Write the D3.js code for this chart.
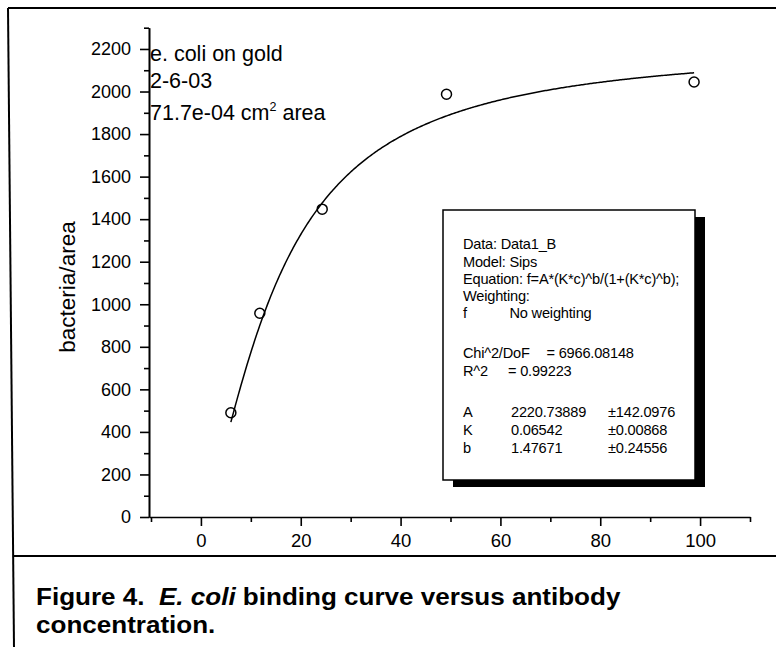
<!DOCTYPE html>
<html>
<head>
<meta charset="utf-8">
<script src="https://cdn.jsdelivr.net/npm/d3@7"></script>
<style>
  html, body { margin: 0; padding: 0; background: #fff; }
  svg { display: block; font-family: "Liberation Sans", Arial, Helvetica, sans-serif; }
</style>
</head>
<body>
<svg id="chart" width="776" height="647"></svg>
<script>
// Antibody concentration vs. bound bacteria per area
const concentration = [6, 11.8, 24.3, 49.2, 98.8];
const bacteriaPerArea = [490, 958, 1447, 1987, 2045];

// Sips fit parameters reported by the fit
const fitA = 2220.73889;
const fitK = 0.06542;
const fitB = 1.47671;

const xTickValues = [0, 20, 40, 60, 80, 100];
const xMinorValues = [-10, 10, 30, 50, 70, 90, 110];
const yTickValues = [0, 200, 400, 600, 800, 1000, 1200, 1400, 1600, 1800, 2000, 2200];
const yMinorValues = [100, 300, 500, 700, 900, 1100, 1300, 1500, 1700, 1900, 2100, 2300];

const noteLines = ["e. coli on gold", "2-6-03"];
const fitReport = [
  ["Data: Data1_B"],
  ["Model: Sips"],
  ["Equation: f=A*(K*c)^b/(1+(K*c)^b);"],
  ["Weighting:"],
  ["f", "No weighting"],
  [],
  ["Chi^2/DoF", "= 6966.08148"],
  ["R^2", "= 0.99223"],
  [],
  ["A", "2220.73889", "\u00b1142.0976"],
  ["K", "0.06542", "\u00b10.00868"],
  ["b", "1.47671", "\u00b10.24556"]
];

const svg = d3.select("#chart");

const x = d3.scaleLinear().domain([-10.4, 110]).range([149, 750]);
const y = d3.scaleLinear().domain([0, 2300]).range([517, 27.7]);

// Page frame
svg.append("line").attr("x1", 8).attr("y1", 8).attr("x2", 776).attr("y2", 8)
  .attr("stroke", "#000").attr("stroke-width", 2);
svg.append("line").attr("x1", 8).attr("y1", 8).attr("x2", 14).attr("y2", 647)
  .attr("stroke", "#000").attr("stroke-width", 2);
svg.append("line").attr("x1", 13).attr("y1", 556).attr("x2", 776).attr("y2", 556)
  .attr("stroke", "#000").attr("stroke-width", 2);

// Axes
function styleAxis(g) {
  g.selectAll("path, line").attr("stroke", "#000").attr("stroke-width", 1.6);
  g.selectAll("text").attr("fill", "#000").attr("font-size", 18)
    .attr("font-family", "Liberation Sans, Arial, sans-serif");
}

const xAxis = svg.append("g").attr("transform", `translate(0,${y(0)})`)
  .call(d3.axisBottom(x).tickValues(xTickValues).tickSize(9).tickSizeOuter(0).tickPadding(8))
  .call(styleAxis);
xAxis.selectAll("text").attr("font-size", 18.5);
svg.append("g").attr("transform", `translate(0,${y(0)})`)
  .call(d3.axisBottom(x).tickValues(xMinorValues).tickSize(5).tickSizeOuter(0).tickFormat(""))
  .call(styleAxis)
  .select(".domain").remove();

svg.append("g").attr("transform", `translate(${x.range()[0]},0)`)
  .call(d3.axisLeft(y).tickValues(yTickValues).tickSize(9).tickSizeOuter(0).tickPadding(9)
    .tickFormat(d3.format("d")))
  .call(styleAxis);
svg.append("g").attr("transform", `translate(${x.range()[0]},0)`)
  .call(d3.axisLeft(y).tickValues(yMinorValues).tickSize(5).tickSizeOuter(0).tickFormat(""))
  .call(styleAxis);

// Y axis title
svg.append("text")
  .attr("transform", "translate(75,287) rotate(-90)")
  .attr("text-anchor", "middle")
  .attr("font-size", 22.5)
  .text("bacteria/area");

// Notes in the upper-left corner
const note = svg.append("g").attr("font-size", 21.5);
note.append("text").attr("x", 150).attr("y", 61).text(noteLines[0]);
note.append("text").attr("x", 150).attr("y", 88).text(noteLines[1]);
const areaLine = note.append("text").attr("x", 150).attr("y", 120);
areaLine.append("tspan").text("71.7e-04 cm");
areaLine.append("tspan").attr("font-size", 12.5).attr("dy", -9).text("2");
areaLine.append("tspan").attr("dy", 9).text(" area");

// Fitted Sips curve
const sips = c => fitA * Math.pow(fitK * c, fitB) / (1 + Math.pow(fitK * c, fitB));
const cMin = d3.min(concentration), cMax = d3.max(concentration);
const curveC = d3.range(cMin, cMax, 0.25).concat([cMax]);
svg.append("path")
  .datum(curveC)
  .attr("fill", "none")
  .attr("stroke", "#000")
  .attr("stroke-width", 1.5)
  .attr("d", d3.line().x(c => x(c)).y(c => y(sips(c))));

// Measured points
svg.append("g").selectAll("circle")
  .data(concentration.map((c, i) => ({ c, v: bacteriaPerArea[i] })))
  .join("circle")
  .attr("cx", d => x(d.c))
  .attr("cy", d => y(d.v))
  .attr("r", 5)
  .attr("fill", "none")
  .attr("stroke", "#000")
  .attr("stroke-width", 1.5);

// Fit report box with drop shadow
const box = { x: 443, y: 210, w: 252, h: 270 };
svg.append("rect").attr("x", box.x + 10).attr("y", box.y + 7)
  .attr("width", box.w).attr("height", box.h).attr("fill", "#000");
svg.append("rect").attr("x", box.x).attr("y", box.y)
  .attr("width", box.w).attr("height", box.h)
  .attr("fill", "#fff").attr("stroke", "#000").attr("stroke-width", 1.5);

const report = svg.append("g").attr("font-size", 14.6).attr("letter-spacing", -0.2);
const rowBase = [249.3, 266.7, 283.8, 301, 318.3, null, 358.3, 375.7, null, 416.7, 435, 453.3];
const colX = {
  "No weighting": 509.5,
  "= 6966.08148": 546.5,
  "= 0.99223": 508
};
fitReport.forEach((row, i) => {
  if (!row.length) return;
  const yy = rowBase[i];
  report.append("text").attr("x", 463).attr("y", yy).text(row[0]);
  if (row.length === 2) {
    report.append("text").attr("x", colX[row[1]]).attr("y", yy).text(row[1]);
  }
  if (row.length === 3) {
    report.append("text").attr("x", 511).attr("y", yy).text(row[1]);
    report.append("text").attr("x", 608).attr("y", yy).text(row[2]);
  }
});

// Caption
const cap = svg.append("g").attr("font-size", 24).attr("font-weight", "bold")
  .attr("transform", "translate(36,0) scale(1.085,1)");
const cap1 = cap.append("text").attr("x", 0).attr("y", 605);
cap1.append("tspan").text("Figure 4.\u00a0\u00a0");
cap1.append("tspan").attr("font-style", "italic").text("E. coli");
cap1.append("tspan").text(" binding curve versus antibody");
cap.append("text").attr("x", 0).attr("y", 633).text("concentration.");
</script>
</body>
</html>
